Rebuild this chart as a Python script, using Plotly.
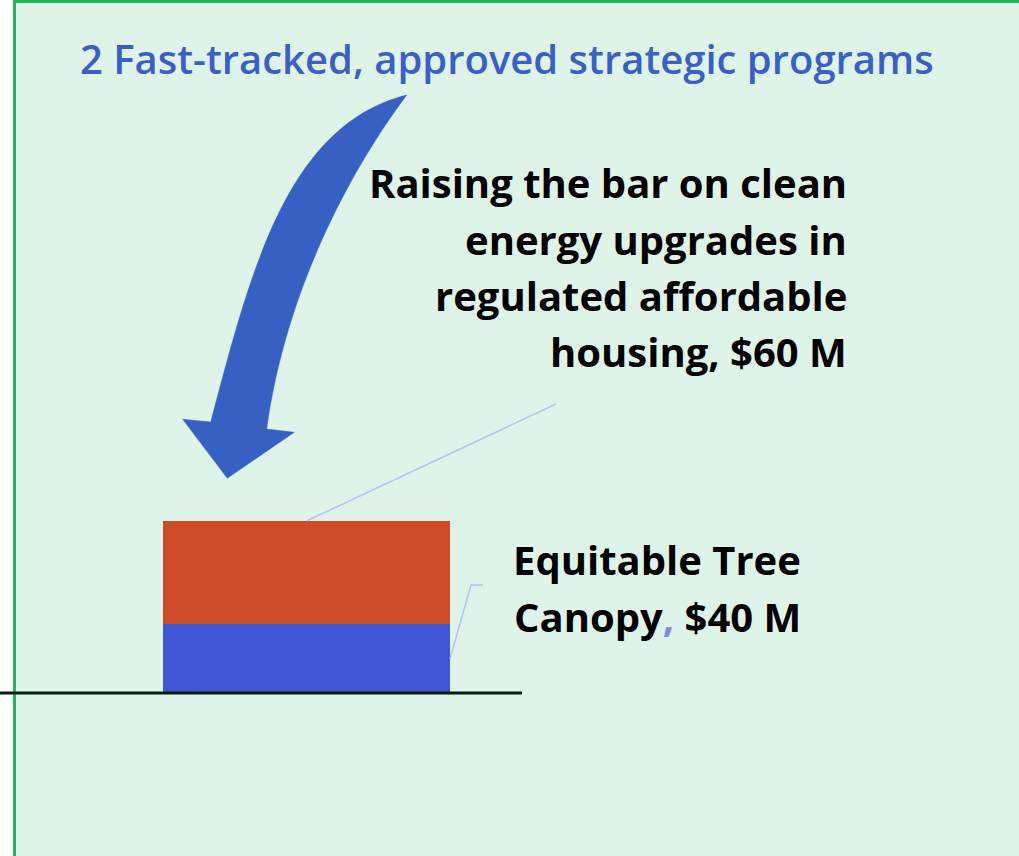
import plotly.graph_objects as go

# ---- data ----
categories = ["Programs"]
series_names = ["Equitable Tree Canopy", "Raising the bar on clean energy upgrades"]
series_values = [[40], [60]]
series_colors = ["#3f55d4", "#cd4c27"]
title_text = "2 Fast-tracked, approved strategic programs"
label_top_lines = ["Raising the bar on clean", "energy upgrades in",
                   "regulated affordable", "housing, $60 M"]
label_bottom_lines = ["Equitable Tree",
                      "Canopy<span style='color:#7e88e8'>,</span> $40 M"]

W, H = 1019, 856
# axis mapping (pixel layout)
X_RANGE = [-1.0679, 2.4826]
Y_RANGE = [-94.77, 402.9]


def px_x(p):
    return X_RANGE[0] + p / W * (X_RANGE[1] - X_RANGE[0])


def px_y(p):
    return Y_RANGE[1] - p / H * (Y_RANGE[1] - Y_RANGE[0])


fig = go.Figure()
for name, vals, col in zip(series_names, series_values, series_colors):
    fig.add_trace(go.Bar(x=[0], y=vals, name=name, marker=dict(color=col, line=dict(width=0)),
                         width=1.0, hoverinfo="skip"))

shapes = []
# background panel with green border
shapes.append(dict(type="rect", xref="paper", yref="paper", x0=14.5 / W, x1=1.02,
                   y0=-0.02, y1=1 - 1.5 / H, fillcolor="#dff4e8",
                   line=dict(color="#1fb85a", width=3), layer="below"))
# baseline
shapes.append(dict(type="line", xref="paper", yref="y", x0=0, x1=522 / W, y0=0, y1=0,
                   line=dict(color="#0b1a10", width=3)))
# leader lines
top_total = sum(v[0] for v in series_values)
shapes.append(dict(type="line", xref="x", yref="y", x0=0, y0=top_total,
                   x1=px_x(556), y1=px_y(404), line=dict(color="#b8bff4", width=1.5)))
mid_blue = series_values[0][0] / 2
shapes.append(dict(type="path", xref="x", yref="y",
                   path=f"M 0.5 {mid_blue} L {px_x(471)} {px_y(585)} L {px_x(483)} {px_y(585)}",
                   line=dict(color="#b8bff4", width=1.5)))


# curved arrow
def P(x, y):
    return f"{px_x(x):.4f},{px_y(y):.4f}"


arrow_path = (
    f"M {P(406.7, 95)} "
    f"C {P(286.7, 125)} {P(250.5, 272)} {P(210.7, 422)} "
    f"L {P(182.7, 419.3)} L {P(227.3, 478.3)} L {P(294.3, 432.3)} L {P(266.7, 429)} "
    f"C {P(285.7, 290)} {P(350.7, 170)} {P(406.7, 95)} Z"
)
shapes.append(dict(type="path", xref="x", yref="y", path=arrow_path,
                   fillcolor="#3760c4", line=dict(color="#3760c4", width=0.5)))

annotations = []
annotations.append(dict(text=title_text, xref="paper", yref="paper", x=78 / W, y=1 - 59 / H,
                        xanchor="left", yanchor="middle", showarrow=False,
                        font=dict(family="Open Sans", size=40, color="#3a5fc8", weight=600)))
for i, line in enumerate(label_top_lines):
    annotations.append(dict(text=line, xref="paper", yref="paper", x=849 / W,
                            y=1 - (183 + 56 * i) / H, xanchor="right", yanchor="middle",
                            showarrow=False,
                            font=dict(family="Open Sans", size=40, color="#000000", weight="bold")))
for i, line in enumerate(label_bottom_lines):
    annotations.append(dict(text=line, xref="paper", yref="paper", x=803 / W,
                            y=1 - (559 + 57 * i) / H, xanchor="right", yanchor="middle",
                            showarrow=False,
                            font=dict(family="Open Sans", size=40, color="#000000", weight="bold")))

fig.update_layout(
    width=W, height=H, margin=dict(l=0, r=0, t=0, b=0),
    paper_bgcolor="#ffffff", plot_bgcolor="rgba(0,0,0,0)",
    barmode="stack", showlegend=False, bargap=0,
    xaxis=dict(range=X_RANGE, visible=False, fixedrange=True),
    yaxis=dict(range=Y_RANGE, visible=False, fixedrange=True),
    shapes=shapes, annotations=annotations,
)
fig.write_html("out.html", config={"displayModeBar": False},
               post_script="document.body.style.margin='0px';")
